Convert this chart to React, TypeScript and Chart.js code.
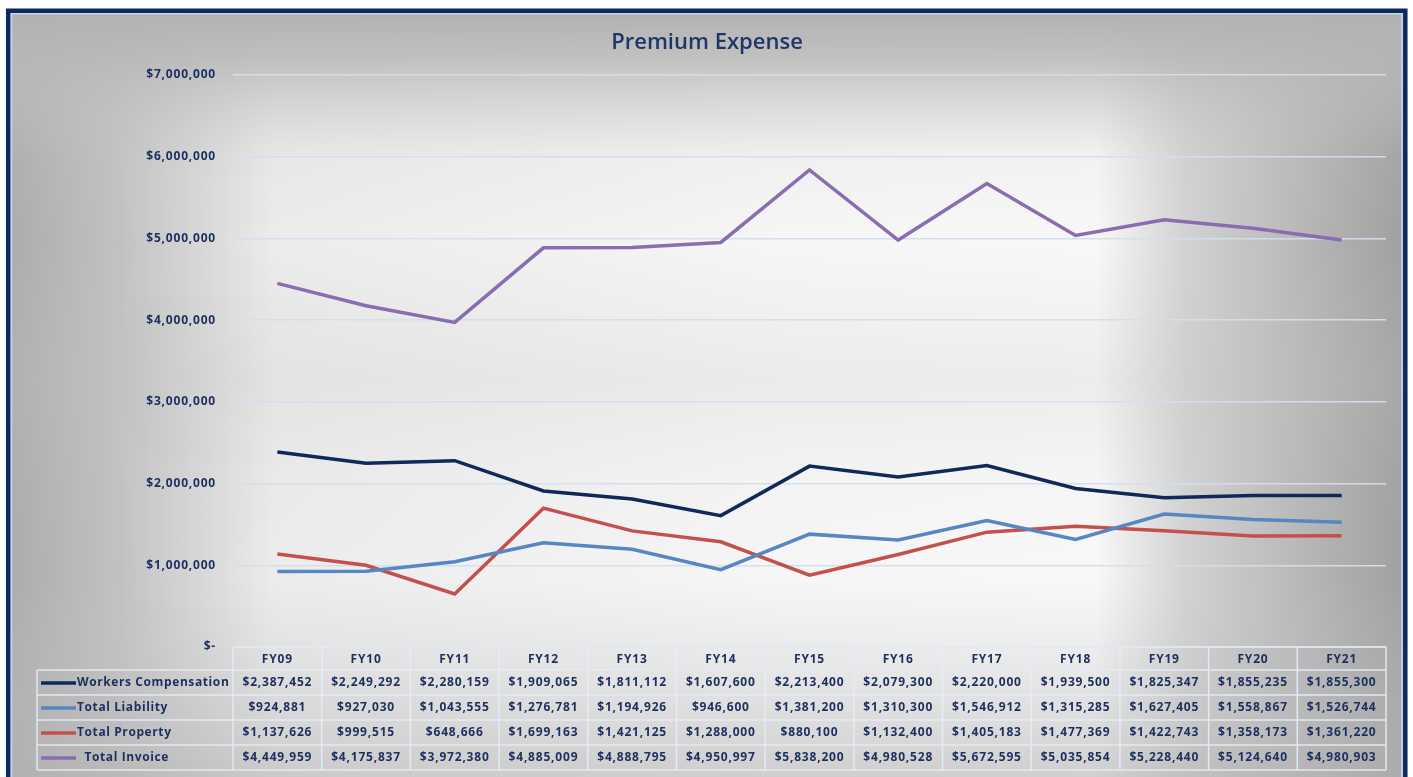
import React, { useEffect, useRef } from "react";
import { Chart, registerables } from "chart.js";

Chart.register(...registerables);

const chartTitle = "Premium Expense";
const categories = ["FY09", "FY10", "FY11", "FY12", "FY13", "FY14", "FY15", "FY16", "FY17", "FY18", "FY19", "FY20", "FY21"];
const workersComp = [2387452, 2249292, 2280159, 1909065, 1811112, 1607600, 2213400, 2079300, 2220000, 1939500, 1825347, 1855235, 1855300];
const totalLiability = [924881, 927030, 1043555, 1276781, 1194926, 946600, 1381200, 1310300, 1546912, 1315285, 1627405, 1558867, 1526744];
const totalProperty = [1137626, 999515, 648666, 1699163, 1421125, 1288000, 880100, 1132400, 1405183, 1477369, 1422743, 1358173, 1361220];
const totalInvoice = [4449959, 4175837, 3972380, 4885009, 4888795, 4950997, 5838200, 4980528, 5672595, 5035854, 5228440, 5124640, 4980903];
const seriesLabels = ["Workers Compensation", "Total Liability", "Total Property", "  Total Invoice"];
const yMin = 0;
const yMax = 7000000;
const yStep = 1000000;

const NAVY_TEXT = "#1d2f5f";
const FONT = "'Open Sans', 'Noto Sans', sans-serif";

const fmtMoney = (v: number) => (v === 0 ? "$-" : "$" + Math.round(v).toLocaleString("en-US"));

const bgPlugin = {
  id: "bgPlugin",
  beforeDraw(chart: any) {
    const { ctx, width, height } = chart;
    ctx.save();
    ctx.fillStyle = "#ffffff";
    ctx.fillRect(0, 0, width, height);
    const x0 = 10, y0 = 13, x1 = 1403, y1 = height;
    const hg = ctx.createLinearGradient(x0, 0, x1, 0);
    hg.addColorStop(0, "#acacac");
    hg.addColorStop(0.08, "#c2c2c2");
    hg.addColorStop(0.19, "#ececec");
    hg.addColorStop(0.55, "#f6f6f6");
    hg.addColorStop(0.78, "#f8f8f8");
    hg.addColorStop(0.845, "#d2d2d2");
    hg.addColorStop(1, "#a0a0a0");
    ctx.fillStyle = hg;
    ctx.fillRect(x0, y0, x1 - x0, y1 - y0);
    const vg = ctx.createLinearGradient(0, y0, 0, y1);
    vg.addColorStop(0, "rgba(178,178,178,1)");
    vg.addColorStop(0.06, "rgba(184,184,184,0.85)");
    vg.addColorStop(0.19, "rgba(200,200,200,0.12)");
    vg.addColorStop(0.3, "rgba(200,200,200,0.0)");
    vg.addColorStop(0.48, "rgba(195,195,195,0.22)");
    vg.addColorStop(0.62, "rgba(200,200,200,0.05)");
    vg.addColorStop(0.74, "rgba(200,200,200,0)");
    vg.addColorStop(1, "rgba(180,180,180,0.6)");
    ctx.fillStyle = vg;
    ctx.fillRect(x0, y0, x1 - x0, y1 - y0);
    ctx.restore();
    // letter spacing for axis tick labels
    ctx.letterSpacing = "0.8px";
  },
};

const tablePlugin = {
  id: "tablePlugin",
  afterDraw(chart: any) {
    const { ctx, chartArea, width, height } = chart;
    const xs = chart.scales.x;
    const n = categories.length;
    const left = chartArea.left;
    const right = chartArea.right;
    const colW = (right - left) / n;
    const headTop = chartArea.bottom;
    const headBottom = headTop + 23;
    const rowH = 25;
    const tableLeft = 37;
    const datasets = chart.data.datasets;
    const tableBottom = headBottom + rowH * datasets.length;

    ctx.save();
    ctx.letterSpacing = "0px";
    ctx.strokeStyle = "rgba(228,236,247,0.95)";
    ctx.lineWidth = 1.5;
    ctx.beginPath();
    ctx.moveTo(left, headTop);
    ctx.lineTo(right, headTop);
    for (let r = 0; r <= datasets.length; r++) {
      const y = headBottom + r * rowH;
      ctx.moveTo(tableLeft, y);
      ctx.lineTo(right, y);
    }
    ctx.moveTo(tableLeft, headBottom);
    ctx.lineTo(tableLeft, tableBottom);
    for (let k = 0; k <= n; k++) {
      const x = left + k * colW;
      ctx.moveTo(x, headTop);
      ctx.lineTo(x, tableBottom);
    }
    ctx.stroke();

    ctx.fillStyle = NAVY_TEXT;
    ctx.textBaseline = "middle";
    ctx.textAlign = "center";
    ctx.font = `bold 12px ${FONT}`;
    ctx.letterSpacing = "0.8px";
    categories.forEach((c, i) => {
      ctx.fillText(c, xs.getPixelForValue(i), (headTop + headBottom) / 2 + 1);
    });

    datasets.forEach((ds: any, r: number) => {
      const yc = headBottom + r * rowH + rowH / 2 + 0.5;
      ctx.textAlign = "center";
      ds.data.forEach((v: number, i: number) => {
        ctx.fillText(fmtMoney(v), xs.getPixelForValue(i), yc);
      });
      ctx.strokeStyle = ds.borderColor;
      ctx.lineWidth = 3.5;
      ctx.beginPath();
      ctx.moveTo(41, yc);
      ctx.lineTo(76, yc);
      ctx.stroke();
      ctx.textAlign = "left";
      ctx.letterSpacing = "0.6px";
      ctx.fillText(ds.label, 77, yc);
      ctx.letterSpacing = "0.8px";
    });

    // title
    ctx.letterSpacing = "0px";
    ctx.textAlign = "center";
    ctx.textBaseline = "alphabetic";
    ctx.font = `600 22px ${FONT}`;
    ctx.fillStyle = "#1f3668";
    ctx.fillText(chartTitle, 707, 49);

    // frame
    ctx.strokeStyle = "#0d2a5f";
    ctx.lineWidth = 4.5;
    ctx.beginPath();
    ctx.moveTo(8.2, height + 5);
    ctx.lineTo(8.2, 10.8);
    ctx.lineTo(1405.3, 10.8);
    ctx.lineTo(1405.3, height + 5);
    ctx.stroke();
    ctx.strokeStyle = "#c9d6ea";
    ctx.lineWidth = 1.5;
    ctx.beginPath();
    ctx.moveTo(11.5, height + 5);
    ctx.lineTo(11.5, 13.8);
    ctx.lineTo(1402, 13.8);
    ctx.lineTo(1402, height + 5);
    ctx.stroke();
    ctx.restore();
  },
};

export default function App() {
  const canvasRef = useRef<HTMLCanvasElement | null>(null);

  useEffect(() => {
    document.body.style.margin = "0";
    const canvas = canvasRef.current;
    if (!canvas) return;
    const mk = (label: string, data: number[], color: string) => ({
      label,
      data,
      borderColor: color,
      backgroundColor: color,
      borderWidth: 3.5,
      pointRadius: 0,
      pointHoverRadius: 0,
      tension: 0,
      fill: false,
    });
    const chart = new Chart(canvas, {
      type: "line",
      data: {
        labels: categories,
        datasets: [
          mk(seriesLabels[0], workersComp, "#10285a"),
          mk(seriesLabels[1], totalLiability, "#5687c2"),
          mk(seriesLabels[2], totalProperty, "#c4504c"),
          mk(seriesLabels[3], totalInvoice, "#8a6db0"),
        ],
      },
      options: {
        animation: false,
        responsive: false,
        devicePixelRatio: 1,
        layout: { padding: { top: 75, right: 27, bottom: 130, left: 0 } },
        plugins: {
          legend: { display: false },
          title: { display: false },
          tooltip: { enabled: false },
        },
        scales: {
          x: { type: "category", display: false, offset: true },
          y: {
            min: yMin,
            max: yMax,
            afterFit: (s: any) => {
              s.width = 233;
            },
            border: { display: false },
            grid: { color: "rgba(208,222,240,0.95)", lineWidth: 1.5, drawTicks: false },
            ticks: {
              stepSize: yStep,
              padding: 17,
              color: NAVY_TEXT,
              font: { family: FONT, size: 12, weight: "bold" },
              callback: (v: any) => fmtMoney(Number(v)),
            },
          },
        },
      },
      plugins: [bgPlugin, tablePlugin],
    } as any);
    return () => chart.destroy();
  }, []);

  return (
    <div style={{ position: "fixed", left: 0, top: 0, width: 1413, height: 777 }}>
      <canvas ref={canvasRef} width={1413} height={777} style={{ display: "block", width: 1413, height: 777 }} />
    </div>
  );
}
